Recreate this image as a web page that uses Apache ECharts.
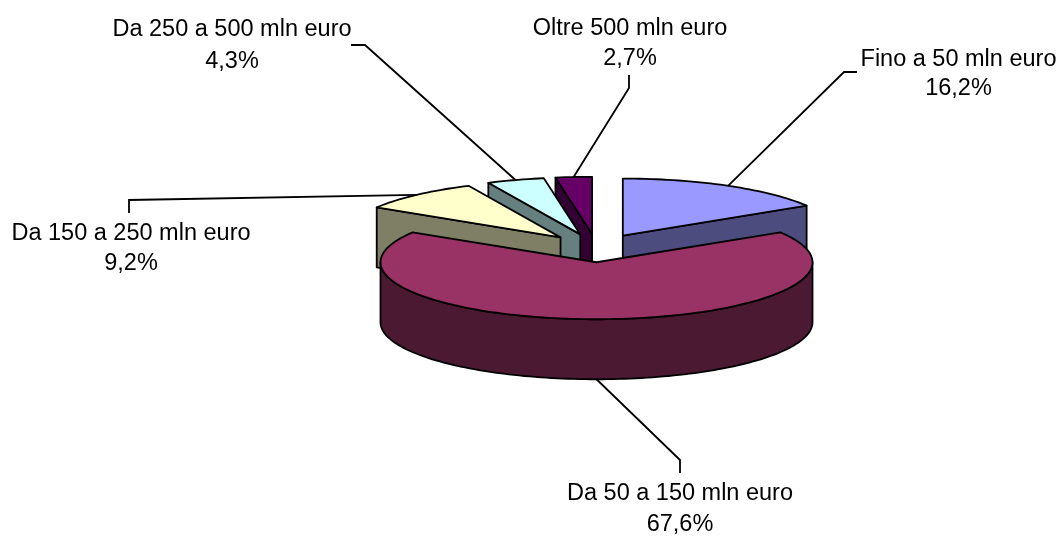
<!DOCTYPE html>
<html>
<head>
<meta charset="utf-8">
<style>html,body{margin:0;padding:0;background:#fff}#c{width:1063px;height:537px}</style>
<script src="https://cdn.jsdelivr.net/npm/echarts@6/dist/echarts.min.js"></script>
</head>
<body>
<div id="c"></div>
<script>
var categories = ['Fino a 50 mln euro', 'Da 50 a 150 mln euro', 'Da 150 a 250 mln euro', 'Da 250 a 500 mln euro', 'Oltre 500 mln euro'];
var values = [16.2, 67.6, 9.2, 4.3, 2.7];
var topColors = ['#9999FF', '#993366', '#FFFFCC', '#CCFFFF', '#660066'];
var wallColors = ['#4C4C7F', '#4C1933', '#7F7F66', '#667F7F', '#330033'];
var drawOrder = [4, 3, 2, 0, 1];

// label layout: text centre x, first line y, second line y
var labelBoxes = [[958.5, 60, 89], [680, 494, 525], [131, 234, 264], [232, 30, 62], [630, 29, 59]];
// leader elbows, from the label end to the bend
var elbows = [
  [[857, 72], [844, 72]],
  [[680, 473], [680, 460]],
  [[129, 213], [129, 200]],
  [[351, 45], [365, 45]],
  [[629, 75], [629, 88]]
];

var pie = { cx: 596.5, cy: 248, rx: 216, ry: 57, depth: 60, explode: 0.25 };
var total = values.reduce(function (a, b) { return a + b; }, 0);

function rad(d) { return d * Math.PI / 180; }
function pt(c, a) { return [c[0] + pie.rx * Math.sin(rad(a)), c[1] - pie.ry * Math.cos(rad(a))]; }
function down(p) { return [p[0], p[1] + pie.depth]; }
function arc(c, a1, a2) {
  var out = [], n = Math.max(2, Math.ceil((a2 - a1) / 1.5));
  for (var i = 0; i <= n; i++) out.push(pt(c, a1 + (a2 - a1) * i / n));
  return out;
}

var spans = [], acc = 0;
values.forEach(function (v) { spans.push([acc, acc + v / total * 360]); acc += v / total * 360; });

function fmt(v) { return v.toFixed(1).replace('.', ',') + '%'; }

function renderItem(params, api) {
  var k = api.value(0);
  var a1 = spans[k][0], a2 = spans[k][1], mid = (a1 + a2) / 2;
  var apex = [
    pie.cx + pie.explode * pie.rx * Math.sin(rad(mid)),
    pie.cy - pie.explode * pie.ry * Math.cos(rad(mid))
  ];
  var kids = [];
  function poly(points, fill) {
    kids.push({ type: 'polygon', silent: true, shape: { points: points },
      style: { fill: fill, stroke: '#000', lineWidth: 1.8, lineJoin: 'round' } });
  }
  function wallRadial(a) {
    var p = pt(apex, a);
    poly([p, apex, down(apex), down(p)], wallColors[k]);
  }
  if (Math.cos(rad(a1 - 90)) < 0) wallRadial(a1);
  if (Math.cos(rad(a2 + 90)) < 0) wallRadial(a2);
  var f1 = Math.max(a1, 90), f2 = Math.min(a2, 270);
  if (f2 > f1) {
    var front = arc(apex, f1, f2);
    poly(front.concat(front.slice().reverse().map(down)), wallColors[k]);
  }
  poly([apex].concat(arc(apex, a1, a2)), topColors[k]);

  // leader line: from the label elbow to the rim at the middle of the slice
  var rim = pt(apex, mid);
  if (Math.cos(rad(mid)) < 0) rim = down(rim);
  kids.push({ type: 'polyline', silent: true,
    shape: { points: elbows[k].concat([rim]) },
    style: { fill: null, stroke: '#000', lineWidth: 1.8 } });

  var box = labelBoxes[k];
  [categories[k], fmt(values[k])].forEach(function (t, i) {
    kids.push({ type: 'text', silent: true,
      style: { x: box[0], y: box[i + 1], text: t, fill: '#000',
        font: '23.5px "Liberation Sans", Arial, sans-serif', align: 'center', verticalAlign: 'middle' } });
  });
  return { type: 'group', children: kids };
}

var chart = echarts.init(document.getElementById('c'), null, { renderer: 'canvas' });
chart.setOption({
  animation: false,
  backgroundColor: '#ffffff',
  series: [{
    type: 'custom',
    coordinateSystem: 'none',
    renderItem: renderItem,
    silent: true,
    data: drawOrder.map(function (k) { return [k, values[k]]; })
  }]
});
</script>
</body>
</html>
